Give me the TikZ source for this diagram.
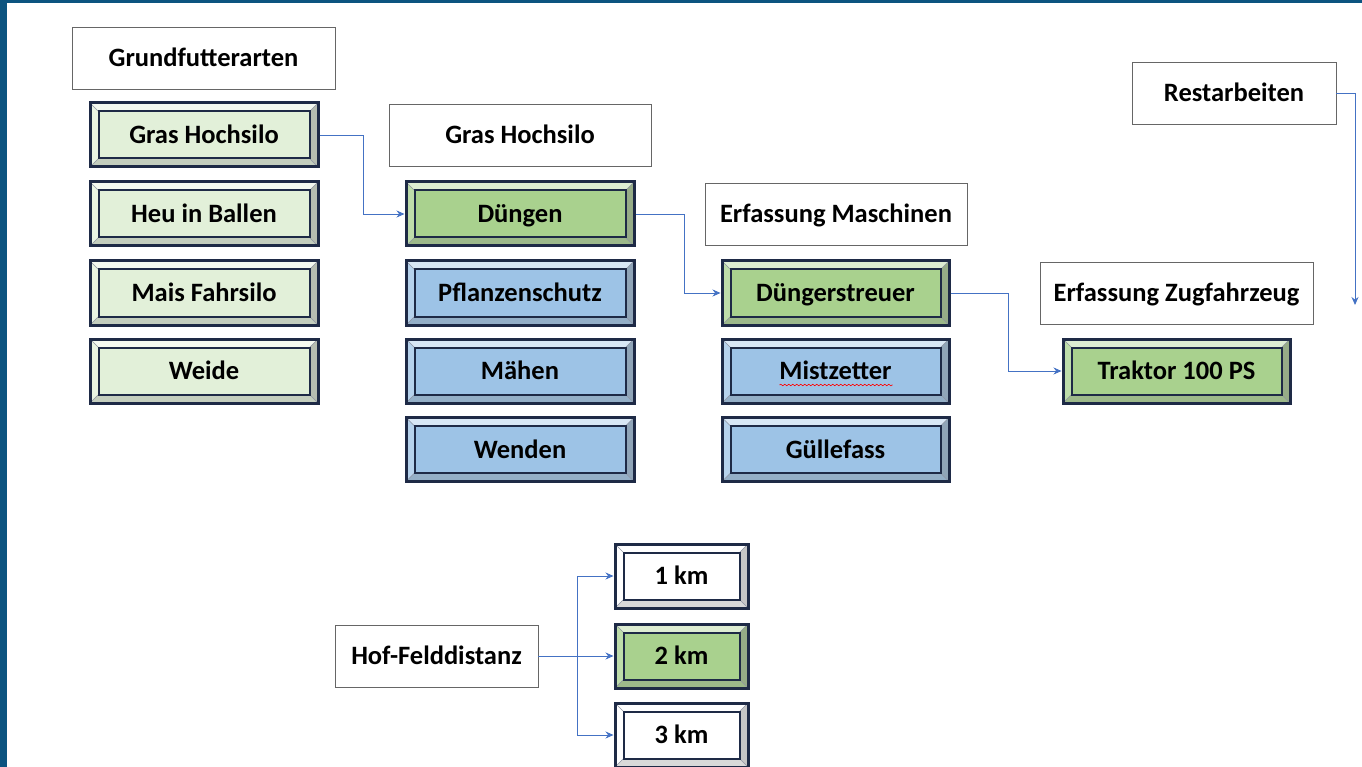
\documentclass[tikz,border=0pt]{standalone}
\usepackage{fontspec}
\setmainfont{Carlito}
\usetikzlibrary{calc,arrows.meta,positioning,decorations.pathmorphing}

\definecolor{frameblue}{RGB}{12,84,128}
\definecolor{navy}{RGB}{30,42,70}
\definecolor{lightgreen}{RGB}{226,240,217}
\definecolor{midgreen}{RGB}{169,209,142}
\definecolor{midblue}{RGB}{157,195,230}
\definecolor{linkblue}{RGB}{68,114,196}

\tikzset{
  boxfont/.style={font=\fontsize{26.5}{30}\selectfont\bfseries, text height=20pt, text depth=3pt},
  head/.style={boxfont, draw=black!60, line width=0.9pt, fill=white, minimum height=62pt},
  bevel/.style={boxfont, draw=navy, line width=3pt, fill=#1, minimum width=228pt, minimum height=64pt,
    path picture={
      \path (path picture bounding box.south west) coordinate (bsw)
            (path picture bounding box.north east) coordinate (bne)
            (path picture bounding box.north west) coordinate (bnw)
            (path picture bounding box.south east) coordinate (bse);
      \coordinate (isw) at ($(bsw)+(8.5pt,8.5pt)$);
      \coordinate (ine) at ($(bne)+(-8.5pt,-8.5pt)$);
      \coordinate (inw) at ($(bnw)+(8.5pt,-8.5pt)$);
      \coordinate (ise) at ($(bse)+(-8.5pt,8.5pt)$);
      \fill[#1!40!white] (bnw) -- (bne) -- (ine) -- (inw) -- cycle;
      \fill[#1!75!white] (bsw) -- (bnw) -- (inw) -- (isw) -- cycle;
      \fill[#1!55!gray] (bne) -- (bse) -- (ise) -- (ine) -- cycle;
      \fill[#1!70!gray] (bsw) -- (bse) -- (ise) -- (isw) -- cycle;
      \draw[navy!50, line width=0.6pt] (bsw) -- (isw) (bnw) -- (inw) (bne) -- (ine) (bse) -- (ise);
      \draw[navy, line width=2pt] (isw) rectangle (ine);
    }},
  link/.style={linkblue, line width=0.9pt, -{Stealth[length=8pt,width=7pt]}}
}

\begin{document}
\begin{tikzpicture}[x=1pt,y=-1pt]
  \useasboundingbox (0,0) rectangle (1362,767);
  \fill[frameblue] (0,0) rectangle (7,767);
  \fill[frameblue] (0,0) rectangle (1362,3);

  % Grundfutter
  \node[head, minimum width=263pt] (futter) at (203.5,58) {Grundfutterarten};
  \node[bevel=lightgreen] (gras) at (204,135) {Gras Hochsilo};
  \node[bevel=lightgreen] (heu) at (204,214) {Heu in Ballen};
  \node[bevel=lightgreen] (mais) at (204,293) {Mais Fahrsilo};
  \node[bevel=lightgreen] (weide) at (204,371) {Weide};

  % Arbeiten
  \node[head, minimum width=262pt] (arbeit) at (520,135.5) {Gras Hochsilo};
  \node[bevel=midgreen] (duengen) at (520,214) {Düngen};
  \node[bevel=midblue] (schutz) at (520,293) {Pflanzenschutz};
  \node[bevel=midblue] (maehen) at (520,371) {Mähen};
  \node[bevel=midblue] (wenden) at (520,449.5) {Wenden};

  % Maschinen
  \node[head, minimum width=262pt] (maschinen) at (836,214) {Erfassung Maschinen};
  \node[bevel=midgreen, minimum width=227pt] (streuer) at (835.5,293) {Düngerstreuer};
  \node[bevel=midblue, minimum width=227pt] (mist) at (835.5,371) {Mistzetter};
  \node[bevel=midblue, minimum width=227pt] (guelle) at (835.5,449.5) {Güllefass};
  \draw[red, line width=0.6pt, decorate, decoration={snake, amplitude=0.8pt, segment length=4pt}]
    ($(mist.center)+(-56pt,-14pt)$) -- ++(113pt,0pt);

  % Zugfahrzeug
  \node[head, minimum width=273pt] (zug) at (1176.5,293) {Erfassung Zugfahrzeug};
  \node[bevel=midgreen, minimum width=227pt] (traktor) at (1176.5,371) {Traktor 100 PS};

  \node[head, minimum width=204pt] (rest) at (1234,93) {Restarbeiten};
  \coordinate (restend) at (1355,305);

  % Distanz
  \node[head, minimum width=203pt] (hof) at (436.5,656) {Hof-Felddistanz};
  \node[bevel=white, minimum width=133pt] (km1) at (681.5,576) {1 km};
  \node[bevel=midgreen, minimum width=133pt] (km2) at (681.5,656) {2 km};
  \node[bevel=white, minimum width=133pt] (km3) at (681.5,735) {3 km};

  \draw[link] (gras.east) -- ++(44,0) |- (duengen.west);
  \draw[link] (duengen.east) -- ++(49,0) |- (streuer.west);
  \draw[link] (streuer.east) -- ++(58,0) |- (traktor.west);
  \draw[link] (rest.east) -| (restend);
  \draw[link] (hof.east) -- (km2.west);
  \coordinate (split) at ($(hof.east)+(39,0)$);
  \draw[link] (split) |- (km1.west);
  \draw[link] (split) |- (km3.west);
\end{tikzpicture}
\end{document}
